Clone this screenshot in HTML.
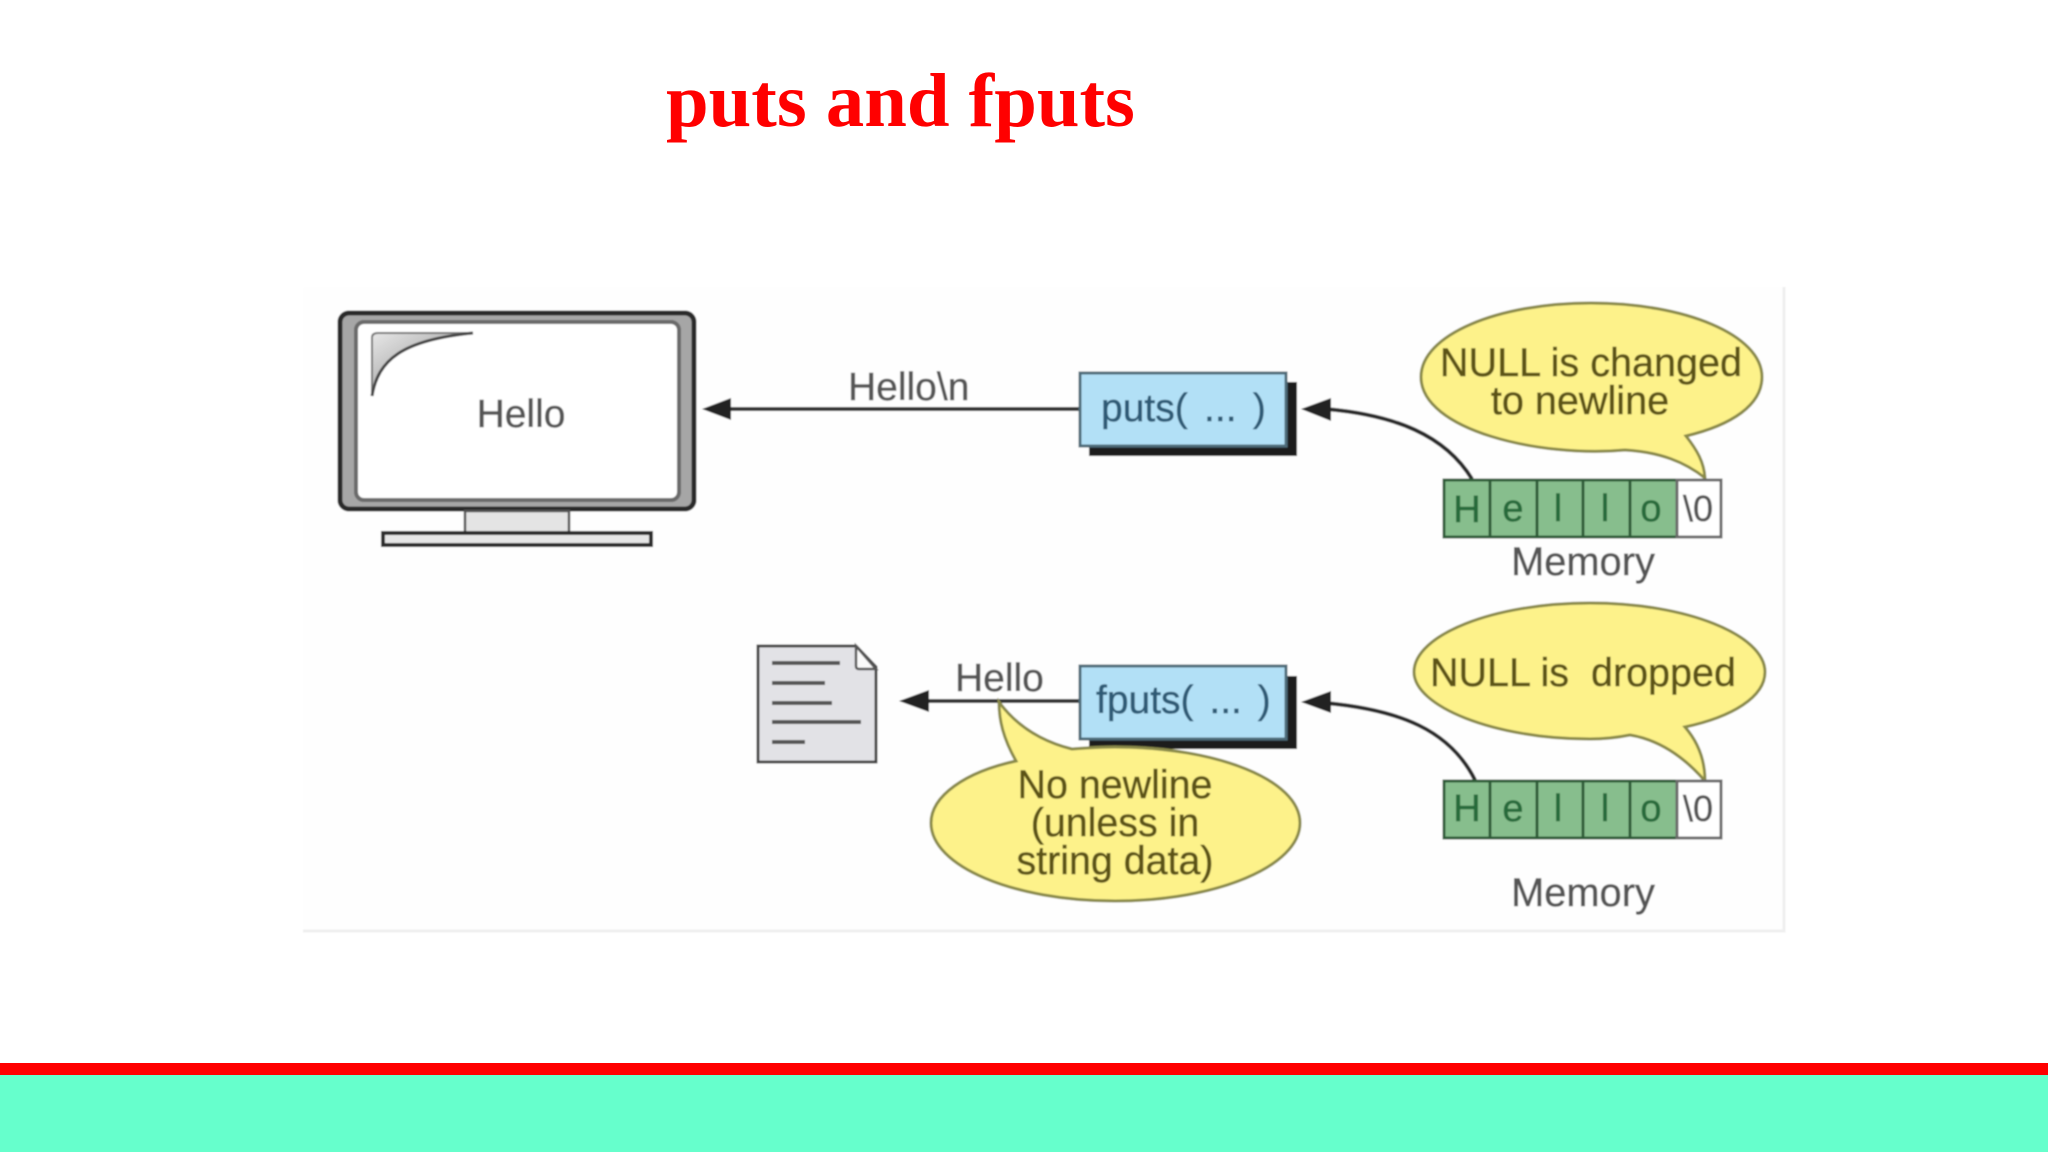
<!DOCTYPE html>
<html><head><meta charset="utf-8"><style>
html,body{margin:0;padding:0;background:#fff;width:2048px;height:1152px;overflow:hidden}
svg{display:block}
text{font-family:"Liberation Sans",sans-serif;white-space:pre}
g.t text{stroke:currentColor;stroke-width:.5px}
</style></head><body>
<svg width="2048" height="1152" viewBox="0 0 2048 1152" xmlns="http://www.w3.org/2000/svg">
<defs><filter id="b" x="-5%" y="-5%" width="110%" height="110%"><feGaussianBlur stdDeviation="0.8"/></filter>
<linearGradient id="g" x1="0" y1="0" x2="1" y2="1"><stop offset="0" stop-color="#e8e8e8"/><stop offset=".6" stop-color="#a8a8a8"/></linearGradient></defs>
<rect width="2048" height="1152" fill="#fff"/>
<text x="666" y="126" style="font-family:'Liberation Serif',serif;font-weight:bold;font-size:76.7px" fill="#ff0000">puts and fputs</text>
<rect x="0" y="1063" width="2048" height="12" fill="#ff0000"/>
<rect x="0" y="1075" width="2048" height="77" fill="#66ffcc"/>
<g filter="url(#b)">
<rect x="303" y="287" width="1480" height="643" fill="#fefefe"/>
<path d="M303 931H1784V287" fill="none" stroke="#efefef" stroke-width="3"/>
<!-- monitor -->
<rect x="340" y="313" width="354" height="196" rx="9" fill="#a6a6a6" stroke="#2a2a2a" stroke-width="5"/>
<rect x="356" y="322" width="323" height="178" rx="8" fill="#fff" stroke="#6a6a6a" stroke-width="4"/>
<path d="M373 333Q371 333 371 337V396C376 360 400 340 473 333Z" fill="url(#g)"/>
<path d="M372 396V338Q372 333 378 333H470" fill="none" stroke="#777" stroke-width="2"/>
<path d="M372 396C378 360 402 340 473 333" fill="none" stroke="#444" stroke-width="3"/>
<rect x="465" y="511" width="104" height="22" fill="#e4e4e4" stroke="#555" stroke-width="2.5"/>
<rect x="383" y="533" width="268" height="12" fill="#e6e6e6" stroke="#2a2a2a" stroke-width="4"/>
<g class="t"><text x="521" y="427" text-anchor="middle" font-size="39" fill="#555" color="#555">Hello</text></g>
<!-- arrow 1 -->
<path d="M725 409H1080" stroke="#333" stroke-width="4" fill="none"/>
<path d="M702 409L731 398V420Z" fill="#222"/>
<g class="t"><text x="848" y="400" font-size="39" fill="#555" color="#555">Hello\n</text></g>
<!-- puts box -->
<rect x="1089" y="382" width="208" height="74" fill="#1c1c1e"/>
<rect x="1080" y="373" width="206" height="73" fill="#b2e0f6" stroke="#4e6a78" stroke-width="3"/>
<g class="t"><text x="1101" y="421" font-size="39" fill="#2d5a75" color="#2d5a75" word-spacing="5.5">puts( ... )</text></g>
<!-- arrow to puts -->
<path d="M1472 479C1445 435 1395 415 1326 409" fill="none" stroke="#2c2c2c" stroke-width="4"/>
<path d="M1301 409L1331 398V421Z" fill="#222"/>
<!-- bubble 1 -->
<path d="M1625 450C1540 458 1421 430 1421 377C1421 335 1497 303 1591 303C1685 303 1762 335 1762 377C1762 405 1732 425 1686 436C1697 450 1704 462 1705 478C1685 462 1660 452 1625 450Z" fill="#fdf28a" stroke="#8a8a4a" stroke-width="3"/>
<g class="t" font-size="39.6" text-anchor="middle" fill="#5c5212" color="#5c5212">
<text x="1591" y="376">NULL is changed</text>
<text x="1580" y="414">to newline</text>
</g>
<!-- memory 1 -->
<rect x="1444" y="480" width="233" height="57" fill="#87be8d"/>
<rect x="1677" y="480" width="44" height="57" fill="#fff"/>
<path d="M1444 480H1677V537H1444ZM1490 480V537M1537 480V537M1583 480V537M1630 480V537" fill="none" stroke="#2f5c39" stroke-width="3"/>
<path d="M1677 480H1721V537H1677Z" fill="none" stroke="#6a6a6a" stroke-width="3"/>
<g class="t" font-size="38" text-anchor="middle" fill="#276a3a" color="#276a3a">
<text x="1467" y="522">H</text><text x="1513" y="521">e</text><text x="1558" y="521">l</text><text x="1605" y="521">l</text><text x="1651" y="521">o</text>
</g>
<g class="t"><text x="1698" y="521" font-size="36" text-anchor="middle" fill="#555" color="#555">\0</text>
<text x="1583" y="575" text-anchor="middle" font-size="39.8" fill="#555" color="#555">Memory</text></g>
<!-- file -->
<path d="M758 646H856L876 667V762H758Z" fill="#e2e2e6" stroke="#444" stroke-width="3"/>
<path d="M856 646V666Q856 669 859 669H876Z" fill="#fafafa" stroke="#555" stroke-width="2.5"/>
<path d="M772 663H840M772 683H825M772 703H832M772 722H861M772 742H805" stroke="#555" stroke-width="4" fill="none"/>
<!-- arrow 2 -->
<path d="M925 701H1080" stroke="#333" stroke-width="4" fill="none"/>
<path d="M899 701L929 690V712Z" fill="#222"/>
<g class="t"><text x="955" y="691" font-size="39" fill="#555" color="#555">Hello</text></g>
<!-- fputs box -->
<rect x="1089" y="676" width="208" height="73" fill="#1c1c1e"/>
<rect x="1080" y="666" width="206" height="73" fill="#b2e0f6" stroke="#4e6a78" stroke-width="3"/>
<g class="t"><text x="1096" y="713" font-size="39" fill="#2d5a75" color="#2d5a75" word-spacing="5">fputs( ... )</text></g>
<!-- bubble 2 -->
<path d="M1016 761C1003 738 999 720 999 702C1016 725 1040 741 1072 749C1085 748 1100 747 1115 747C1217 747 1300 780 1300 823C1300 866 1217 901 1115 901C1013 901 931 866 931 823C931 796 965 772 1016 761Z" fill="#fdf28a" stroke="#8a8a4a" stroke-width="3"/>
<g class="t" font-size="39.4" text-anchor="middle" fill="#5c5212" color="#5c5212">
<text x="1115" y="798">No newline</text>
<text x="1115" y="836">(unless in</text>
<text x="1115" y="874">string data)</text>
</g>
<!-- arrow to fputs -->
<path d="M1475 780C1450 730 1400 710 1326 703" fill="none" stroke="#2c2c2c" stroke-width="4"/>
<path d="M1301 702L1331 691V713Z" fill="#222"/>
<!-- bubble 3 -->
<path d="M1630 735C1615 738 1600 739 1590 739C1493 739 1414 706 1414 672C1414 635 1493 603 1590 603C1687 603 1765 635 1765 672C1765 697 1732 717 1685 727C1698 742 1705 760 1705 781C1685 758 1660 740 1630 735Z" fill="#fdf28a" stroke="#8a8a4a" stroke-width="3"/>
<g class="t"><text x="1430" y="686" font-size="39.5" fill="#5c5212" color="#5c5212">NULL is  dropped</text></g>
<!-- memory 2 -->
<rect x="1444" y="781" width="233" height="57" fill="#87be8d"/>
<rect x="1677" y="781" width="44" height="57" fill="#fff"/>
<path d="M1444 781H1677V838H1444ZM1490 781V838M1537 781V838M1583 781V838M1630 781V838" fill="none" stroke="#2f5c39" stroke-width="3"/>
<path d="M1677 781H1721V838H1677Z" fill="none" stroke="#6a6a6a" stroke-width="3"/>
<g class="t" font-size="38" text-anchor="middle" fill="#276a3a" color="#276a3a">
<text x="1467" y="821">H</text><text x="1513" y="821">e</text><text x="1558" y="821">l</text><text x="1605" y="821">l</text><text x="1651" y="821">o</text>
</g>
<g class="t"><text x="1698" y="821" font-size="36" text-anchor="middle" fill="#555" color="#555">\0</text>
<text x="1583" y="906" text-anchor="middle" font-size="39.8" fill="#555" color="#555">Memory</text></g>
</g>
</svg>
</body></html>
